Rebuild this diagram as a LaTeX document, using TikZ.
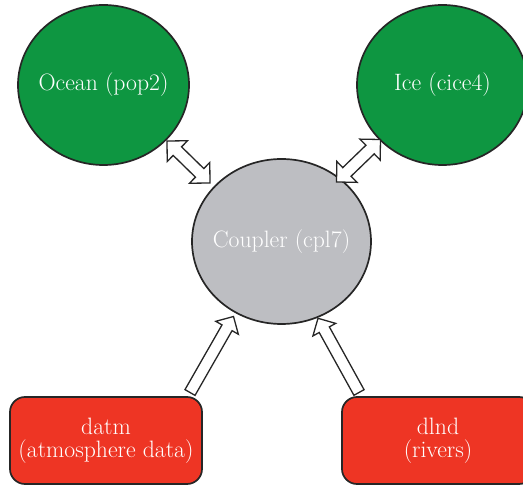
\documentclass[tikz,border=0pt]{standalone}
\usetikzlibrary{shapes.geometric,calc}
\definecolor{cgreen}{HTML}{0E9641}
\definecolor{cgray}{HTML}{BDBEC2}
\definecolor{cred}{HTML}{EE3524}
\definecolor{cline}{HTML}{262626}
\newcommand\dblfat[2]{%
  \def\hl{14.5pt}\def\hw{14.5pt}\def\sw{6pt}%
  \coordinate (p1) at ($(#1)!\hl!(#2)$);
  \coordinate (p2) at ($(#2)!\hl!(#1)$);
  \draw[fatarrow] (#1) -- ($(p1)!\hw!90:(#2)$) -- ($(p1)!\sw!90:(#2)$)
    -- ($(p2)!\sw!90:(#2)$) -- ($(p2)!\hw!90:(#2)$) -- (#2)
    -- ($(p2)!\hw!-90:(#2)$) -- ($(p2)!\sw!-90:(#2)$)
    -- ($(p1)!\sw!-90:(#2)$) -- ($(p1)!\hw!-90:(#2)$) -- cycle;}
\newcommand\singlefat[2]{%
  \def\hl{13pt}\def\hw{13pt}\def\sw{5.8pt}%
  \coordinate (p2) at ($(#2)!\hl!(#1)$);
  \draw[fatarrow] ($(#1)!\sw!90:(#2)$) -- ($(p2)!\sw!90:(#2)$)
    -- ($(p2)!\hw!90:(#2)$) -- (#2) -- ($(p2)!\hw!-90:(#2)$)
    -- ($(p2)!\sw!-90:(#2)$) -- ($(#1)!\sw!-90:(#2)$) -- cycle;}
\newcommand\zw[1]{\makebox[0pt]{#1}}
\begin{document}
\begin{tikzpicture}[x=1pt,y=-1pt,
  every node/.style={font=\fontsize{23.7}{22.5}\selectfont, text=white, align=center},
  model/.style={ellipse, draw=cline, line width=1.7pt, fill=cgreen, inner sep=0pt,
    minimum width=171pt, minimum height=160pt},
  coupler/.style={model, fill=cgray, minimum width=179pt, minimum height=165pt},
  datamodel/.style={rectangle, rounded corners=15pt, draw=cline, line width=1.7pt,
    fill=cred, inner sep=0pt, minimum width=192pt, minimum height=87pt},
  fatarrow/.style={draw=cline, fill=white, line width=1.3pt, line join=miter}]
\useasboundingbox (0,0) rectangle (523,486);
\node[model] (ocean) at (103.5,85) {\zw{Ocean (pop2)}};
\node[model] (ice) at (442.5,85) {\zw{Ice (cice4)}};
\node[coupler] (cpl) at (281.5,241.5) {\zw{Coupler (cpl7)}};
\node[datamodel] (datm) at (106,440.5) {datm\\(atmosphere data)};
\node[datamodel] (dlnd) at (438,440.5) {dlnd\\(rivers)};
\coordinate (oa) at (167,141);
\coordinate (ob) at (210,183);
\coordinate (ia) at (380.5,139.5);
\coordinate (ib) at (336.5,182);
\coordinate (da) at (190,392.5);
\coordinate (db) at (233.5,316.5);
\coordinate (la) at (359,392.5);
\coordinate (lb) at (318,318.3);
\dblfat{oa}{ob}
\dblfat{ia}{ib}
\singlefat{da}{db}
\singlefat{la}{lb}
\end{tikzpicture}
\end{document}
